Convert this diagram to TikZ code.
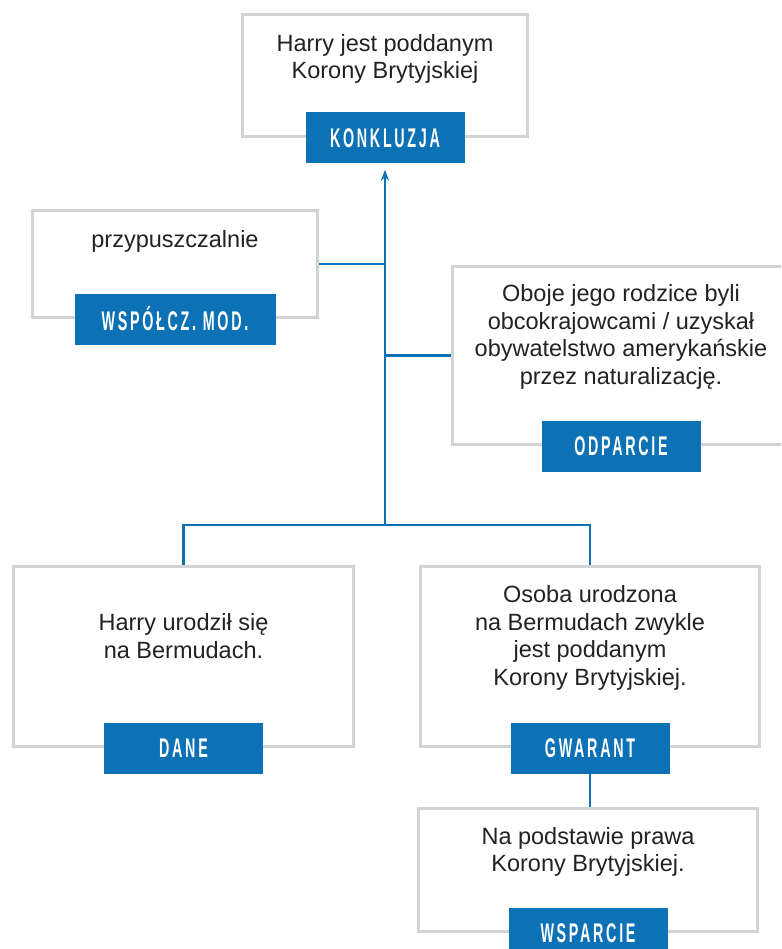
\documentclass[tikz,border=0pt]{standalone}
\usepackage{fontspec}
\setmainfont{Liberation Sans}
\newfontfamily\plakfont[FakeStretch=0.53,LetterSpace=10]{Liberation Sans}
\usepackage{xcolor}
\usepackage{tikz}
\usetikzlibrary{positioning,arrows.meta,backgrounds}
\definecolor{cniebieski}{HTML}{0D71B6}
\definecolor{cszary}{HTML}{D3D3D3}
\definecolor{ctekst}{HTML}{222222}
\tikzset{
  ramka/.style={rectangle, draw=cszary, line width=3pt, fill=white},
  plakietka/.style={rectangle, fill=cniebieski, text=white, inner sep=0pt,
    minimum width=159pt, minimum height=51pt,
    font=\plakfont\bfseries\fontsize{27}{28}\selectfont},
  opis/.style={align=center, text=ctekst, inner sep=0pt,
    font=\fontsize{23.5}{27.5}\selectfont},
  linia/.style={draw=cniebieski, line width=2.5pt},
  strzalka/.style={linia, -{Stealth[length=11pt,width=8pt]}, shorten >=6pt},
}
\begin{document}
\begin{tikzpicture}[x=1pt,y=-1pt]
  \useasboundingbox (0,0) rectangle (781,949);
  \clip (0,0) rectangle (781,949);
  % ramki
  \node[ramka, minimum width=285pt, minimum height=122pt] (konkl) at (385,75.5) {};
  \node[ramka, minimum width=285pt, minimum height=107pt] (mod) at (175,264) {};
  \node[ramka, minimum width=337pt, minimum height=178pt] (odp) at (621,355.5) {};
  \node[ramka, minimum width=340pt, minimum height=180pt] (dane) at (183.5,656.5) {};
  \node[ramka, minimum width=339pt, minimum height=180pt] (gwar) at (590,656.5) {};
  \node[ramka, minimum width=339pt, minimum height=123pt] (wsp) at (588,870) {};
  % teksty
  \node[opis] (konklTxt) at (385,59) {Harry jest poddanym\\Korony Brytyjskiej};
  \node[opis] (modTxt) at (175,241) {przypuszczalnie};
  \node[opis] (odpTxt) at (621,337) {Oboje jego rodzice byli\\obcokrajowcami / uzyskał\\obywatelstwo amerykańskie\\przez naturalizację.};
  \node[opis] (daneTxt) at (183.5,636) {Harry urodził się\\na Bermudach.};
  \node[opis] (gwarTxt) at (590,638) {Osoba urodzona\\na Bermudach zwykle\\jest poddanym\\Korony Brytyjskiej.};
  \node[opis] (wspTxt) at (588,852) {Na podstawie prawa\\Korony Brytyjskiej.};
  % plakietki
  \node[plakietka] (konklTag) at (konkl.south) {KONKLUZJA};
  \node[plakietka, minimum width=201pt] (modTag) at (mod.south) {WSPÓŁCZ. MOD.};
  \node[plakietka] (odpTag) at (odp.south) {ODPARCIE};
  \node[plakietka] (daneTag) at (dane.south) {DANE};
  \node[plakietka] (gwarTag) at (gwar.south) {GWARANT};
  \node[plakietka] (wspTag) at (wsp.south) {WSPARCIE};
  % polaczenia
  \coordinate (wezel) at (385,525);
  \begin{scope}[on background layer]
    \draw[strzalka] (wezel) -- (konklTag.south);
    \draw[linia] (mod.east) -- (mod.east -| wezel);
    \draw[linia] (odp.west) -- (odp.west -| wezel);
    \draw[linia] (dane.north) |- (wezel) -| (gwar.north);
    \draw[linia] (gwarTag.south) -- (gwarTag.south |- wsp.north);
  \end{scope}
\end{tikzpicture}
\end{document}
